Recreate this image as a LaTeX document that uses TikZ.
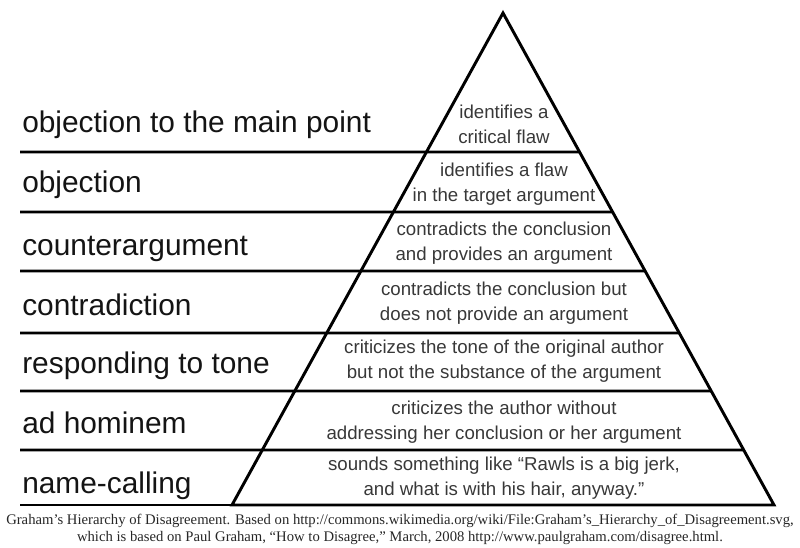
\documentclass[tikz,border=0pt]{standalone}
\usepackage{fontspec}
\setmainfont{Liberation Serif}
\newfontfamily\arialfont{Liberation Sans}
\usetikzlibrary{positioning,calc}
\tikzset{
  rung/.style={anchor=base west, inner sep=0pt, text=black!92,
    font=\arialfont\fontsize{22.4}{26}\selectfont},
  gloss/.style={align=center, inner sep=0pt, text=black!78,
    font=\arialfont\fontsize{14}{19}\selectfont},
  credit/.style={align=center, inner sep=0pt, text=black!85,
    font=\fontsize{11}{12.75}\selectfont},
  rule/.style={line width=2.2pt},
}

\begin{document}
\begin{tikzpicture}[x=0.75pt,y=-0.75pt]
    \useasboundingbox (0,0) rectangle (800,547);
    % the pyramid
    \coordinate (apex) at (503,13);
    \coordinate (bl) at (232,505);
    \coordinate (br) at (774,505);
    \coordinate (baseleft) at (20,505);
    \draw[rule, line join=miter] (apex) -- (bl) -- (br) -- cycle;
    \draw[rule] (baseleft) -- (br);
    % the rungs, each ending on the right edge
    \foreach \y/\n in {152/1,212/2,271/3,333/4,391/5,450/6}{
        \coordinate (l\n) at (20,\y);
        \coordinate (r\n) at ($(apex)!{(\y-13)/492}!(br)$);
        \draw[rule] (l\n) -- (r\n);
    }
    % the levels
    \node[rung] (mainpoint) at (22,132) {objection to the main point};
    \node[rung] (objection) at (22,192) {objection};
    \node[rung] (counter) at (22,255) {counterargument};
    \node[rung] (contra) at (22,315) {contradiction};
    \node[rung] (tone) at (22,373) {responding to tone};
    \node[rung] (hominem) at (22,433) {ad hominem};
    \node[rung] (names) at (22,493) {name-calling};
    % what each level does
    \node[gloss] (gmainpoint) at (504,124) {identifies a\\critical flaw};
    \node[gloss] (gobjection) at (504,184) {identifies a flaw\\in the target argument};
    \node[gloss] (gcounter) at (504,243) {contradicts the conclusion\\and provides an argument};
    \node[gloss] (gcontra) at (504,303) {contradicts the conclusion but\\does not provide an argument};
    \node[gloss] (gtone) at (504,361) {criticizes the tone of the original author\\but not the substance of the argument};
    \node[gloss] (ghominem) at (504,422) {criticizes the author without\\addressing her conclusion or her argument};
    \node[gloss] (gnames) at (504,478) {sounds something like “Rawls is a big jerk,\\and what is with his hair, anyway.”};
    % source
    \node[credit] (source) at (400,529) {Graham’s Hierarchy of Disagreement. Based on http://commons.wikimedia.org/wiki/File:Graham’s\_Hierarchy\_of\_Disagreement.svg,\\which is based on Paul Graham, “How to Disagree,” March, 2008 http://www.paulgraham.com/disagree.html.};
\end{tikzpicture}
\end{document}
